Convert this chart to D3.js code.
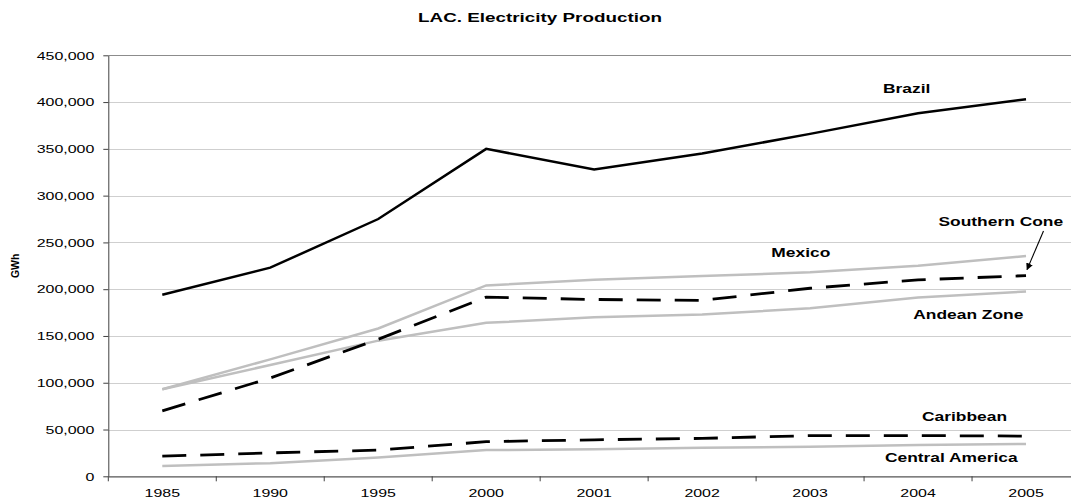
<!DOCTYPE html>
<html>
<head>
<meta charset="utf-8">
<script src="https://cdn.jsdelivr.net/npm/d3@7"></script>
<style>
  html, body { margin: 0; padding: 0; background: #fff; }
  svg { display: block; font-family: "Liberation Sans", Arial, sans-serif; }
</style>
</head>
<body>
<svg id="chart" width="1071" height="502"></svg>
<script>
// ---- data ----
const years = ["1985","1990","1995","2000","2001","2002","2003","2004","2005"];
const yTicks = [0, 50000, 100000, 150000, 200000, 250000, 300000, 350000, 400000, 450000];
const brazil         = [194000, 223000, 275000, 350000, 328000, 345000, 366000, 388000, 403000];
const mexico         = [93000, 125000, 158000, 204000, 210000, 214000, 218000, 225000, 235500];
const southernCone   = [70000, 105000, 146500, 191500, 189000, 188000, 201000, 210000, 214500];
const andeanZone     = [93000, 119000, 145000, 164000, 170000, 173000, 179500, 191000, 197500];
const caribbean      = [21500, 25000, 28000, 37000, 39000, 40500, 43500, 43500, 43000];
const centralAmerica = [11000, 14000, 20000, 28000, 29000, 30500, 31500, 33500, 34500];

const titleText = "LAC. Electricity Production";
const yTitle = "GWh";

// ---- layout ----
const SX = 1.45; // horizontal stretch of text in the original
const svg = d3.select("#chart");
const pLeft = 108.3, pRight = 1080, pTop = 55.3, pBottom = 476.3;

const x = d3.scaleBand().domain(years).range([pLeft, pRight]).padding(0);
const y = d3.scaleLinear().domain([0, 450000]).range([pBottom, pTop]);
const cx = d => x(d) + x.bandwidth() / 2;

function stretchedText(g, px, py, txt, size, weight, anchor) {
  return g.append("text")
    .attr("transform", `translate(${px},${py}) scale(${SX},1)`)
    .attr("text-anchor", anchor || "middle")
    .attr("font-size", size)
    .attr("font-weight", weight || "normal")
    .attr("fill", "#000")
    .text(txt);
}

// title
stretchedText(svg, 540, 22, titleText, 13, "bold");

// gridlines
svg.append("g").selectAll("line")
  .data(yTicks.filter(v => v > 0))
  .join("line")
  .attr("x1", pLeft).attr("x2", pRight)
  .attr("y1", d => Math.round(y(d)) + 0.5).attr("y2", d => Math.round(y(d)) + 0.5)
  .attr("stroke", d => d === 450000 ? "#8c8c8c" : "#cfcfcf")
  .attr("stroke-width", 1);

// y axis
const yAxis = svg.append("g")
  .attr("transform", `translate(${pLeft},0)`)
  .call(d3.axisLeft(y).tickValues(yTicks).tickFormat(d3.format(",")).tickSize(5).tickSizeOuter(0));
yAxis.select(".domain").attr("stroke", "#404040");
yAxis.selectAll(".tick line").attr("stroke", "#404040");
yAxis.selectAll(".tick text")
  .attr("x", 0).attr("dy", "0.34em")
  .attr("transform", `translate(-14,0) scale(${SX},1)`)
  .attr("font-size", 11)
  .attr("font-family", "Liberation Sans, Arial, sans-serif")
  .attr("fill", "#000");

// x axis (labels at centers, ticks at band boundaries)
const xAxis = svg.append("g")
  .attr("transform", `translate(0,${pBottom})`)
  .call(d3.axisBottom(x).tickSize(0).tickSizeOuter(0));
xAxis.select(".domain").attr("stroke", "#555").attr("stroke-width", 1.2);
xAxis.selectAll(".tick text")
  .attr("y", 0).attr("dy", 0)
  .attr("transform", `translate(0,20.7) scale(${SX},1)`)
  .attr("font-size", 11)
  .attr("font-family", "Liberation Sans, Arial, sans-serif")
  .attr("fill", "#000");
xAxis.append("g").selectAll("line")
  .data(years)
  .join("line")
  .attr("x1", d => x(d)).attr("x2", d => x(d))
  .attr("y1", 0).attr("y2", 5)
  .attr("stroke", "#404040");

// y title
svg.append("text")
  .attr("transform", `translate(19,${(pTop + pBottom) / 2}) rotate(-90)`)
  .attr("text-anchor", "middle")
  .attr("font-size", 10.5)
  .attr("font-weight", "bold")
  .text(yTitle);

// series
const line = d3.line().x((d, i) => cx(years[i])).y(d => y(d));
const series = [
  { name: "Mexico", values: mexico, color: "#bfbfbf", width: 2.5, dash: null },
  { name: "Andean Zone", values: andeanZone, color: "#bfbfbf", width: 2.5, dash: null },
  { name: "Central America", values: centralAmerica, color: "#bfbfbf", width: 2.5, dash: null },
  { name: "Southern Cone", values: southernCone, color: "#000", width: 2.8, dash: "24,14" },
  { name: "Caribbean", values: caribbean, color: "#000", width: 2.8, dash: "24,14" },
  { name: "Brazil", values: brazil, color: "#000", width: 2.5, dash: null }
];
svg.append("g").selectAll("path")
  .data(series)
  .join("path")
  .attr("d", s => line(s.values))
  .attr("fill", "none")
  .attr("stroke", s => s.color)
  .attr("stroke-width", s => s.width)
  .attr("stroke-dasharray", s => s.dash)
  .attr("stroke-linejoin", "miter");

// labels
const labels = [
  { t: "Brazil", px: 906.7, py: 92.7 },
  { t: "Southern Cone", px: 1000.8, py: 225.7 },
  { t: "Mexico", px: 800.8, py: 257.3 },
  { t: "Andean Zone", px: 968.3, py: 319 },
  { t: "Caribbean", px: 964.5, py: 420.7 },
  { t: "Central America", px: 951.3, py: 462.3 }
];
const lg = svg.append("g");
labels.forEach(l => stretchedText(lg, l.px, l.py, l.t, 12, "bold"));

// arrow for Southern Cone
svg.append("defs").append("marker")
  .attr("id", "arrow").attr("viewBox", "0 0 10 10")
  .attr("refX", 9).attr("refY", 5)
  .attr("markerWidth", 7).attr("markerHeight", 7)
  .attr("markerUnits", "userSpaceOnUse")
  .attr("orient", "auto")
  .append("path").attr("d", "M0,0 L10,5 L0,10 z").attr("fill", "#000");
svg.append("line")
  .attr("x1", 1043.5).attr("y1", 231)
  .attr("x2", cx("2005") + 1).attr("y2", y(southernCone[8]) - 6)
  .attr("stroke", "#000").attr("stroke-width", 1.1)
  .attr("marker-end", "url(#arrow)");
</script>
</body>
</html>
